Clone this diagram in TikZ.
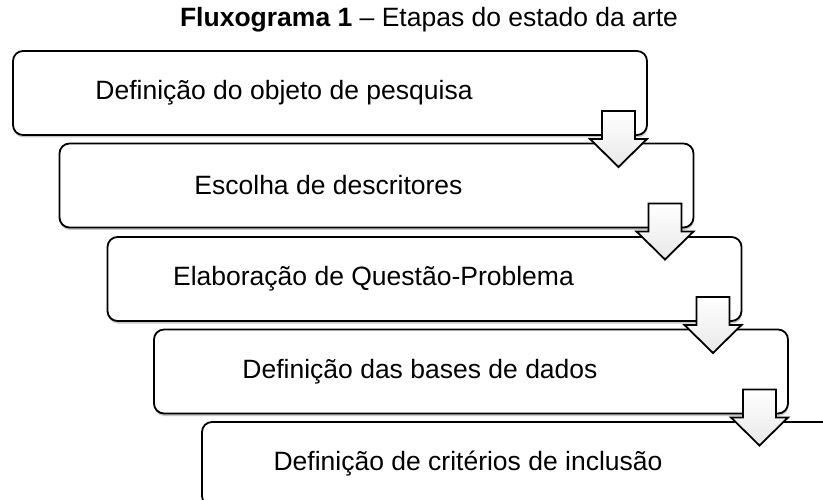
\documentclass[tikz,border=0pt]{standalone}
\usepackage{fontspec}
\setmainfont{Liberation Sans}
\usetikzlibrary{shadows}
\begin{document}
\begin{tikzpicture}[x=1pt,y=-1pt,
  stepbox/.style={draw=black, line width=1.8pt, rounded corners=10pt, fill=white,
    minimum width=634pt, minimum height=84pt, inner sep=0pt, outer sep=0pt,
    drop shadow={shadow xshift=0.5pt, shadow yshift=-2.5pt, opacity=0.22, fill=black}},
  boxtext/.style={font=\fontsize{26.5}{30}\selectfont, inner sep=0pt},
  blockarrow/.style={draw=black, line width=1.8pt, line join=miter, top color=white, bottom color=black!9}
]
\clip (0,0) rectangle (823,500);
\fill[white] (0,0) rectangle (823,500);
\node[boxtext] (title) at (429,20) {\textbf{Fluxograma 1} – Etapas do estado da arte};

\node[stepbox] (b1) at (330,93) {};
\node[stepbox] (b2) at (376.5,185.5) {};
\node[stepbox] (b3) at (424.5,279) {};
\node[stepbox] (b4) at (471,371.5) {};
\node[stepbox] (b5) at (519,464) {};

\node[boxtext] (t1) at ([xshift=-46pt]b1.center) {Definição do objeto de pesquisa};
\node[boxtext] (t2) at ([xshift=-48pt]b2.center) {Escolha de descritores};
\node[boxtext] (t3) at ([xshift=-51pt]b3.center) {Elaboração de Questão-Problema};
\node[boxtext] (t4) at ([xshift=-51pt]b4.center) {Definição das bases de dados};
\node[boxtext] (t5) at ([xshift=-51pt]b5.center) {Definição de critérios de inclusão};

\foreach \b in {b1,b2,b3,b4}{
  \draw[blockarrow]
    ([xshift=-45pt,yshift=24pt]\b.south east) --
    ([xshift=-12pt,yshift=24pt]\b.south east) --
    ([xshift=-12pt,yshift=-4pt]\b.south east) --
    ([xshift=0pt,yshift=-4pt]\b.south east) --
    ([xshift=-28.5pt,yshift=-32pt]\b.south east) --
    ([xshift=-57pt,yshift=-4pt]\b.south east) --
    ([xshift=-45pt,yshift=-4pt]\b.south east) -- cycle;
}
\end{tikzpicture}
\end{document}
